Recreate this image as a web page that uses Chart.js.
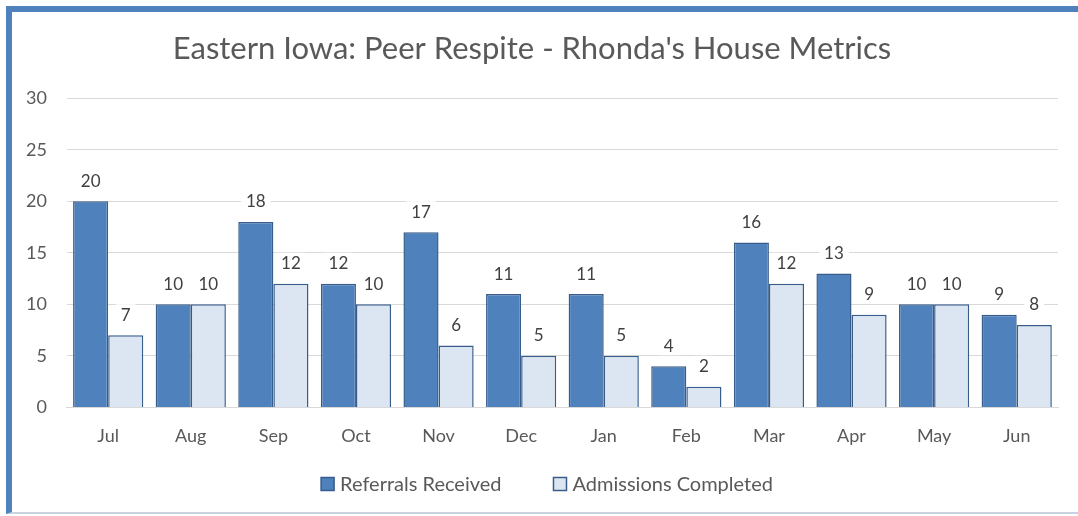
<!DOCTYPE html>
<html>
<head>
<meta charset="utf-8">
<script src="https://cdn.jsdelivr.net/npm/chart.js@4"></script>
<style>
  html, body { margin: 0; padding: 0; background: #fff; }
  #wrap { position: relative; width: 1078px; height: 516px; overflow: hidden; }
  #frame {
    position: absolute; left: 6px; top: 6px; width: 1100px; height: 508px;
    border-left: 6px solid #4f81bd; border-top: 6px solid #4f81bd;
    border-bottom: 2px solid #c8d3df; box-sizing: border-box;
  }
  #myChart { position: absolute; left: 0; top: 0; }
</style>
</head>
<body>
<div id="wrap">
  <div id="frame"></div>
  <canvas id="myChart" width="1078" height="516"></canvas>
</div>
<script>
const months = ["Jul", "Aug", "Sep", "Oct", "Nov", "Dec", "Jan", "Feb", "Mar", "Apr", "May", "Jun"];
const referrals = [20, 10, 18, 12, 17, 11, 11, 4, 16, 13, 10, 9];
const admissions = [7, 10, 12, 10, 6, 5, 5, 2, 12, 9, 10, 8];
const yTicks = [0, 5, 10, 15, 20, 25, 30];

const fontName = "Lato, 'Open Sans', sans-serif";
const textColor = "#595959";

// labels above bars, white box behind like excel
const barLabels = {
    id: "barLabels",
    afterDatasetsDraw(chart) {
        const ctx = chart.ctx;
        ctx.save();
        ctx.font = "17px " + fontName;
        ctx.textAlign = "center";
        ctx.textBaseline = "middle";
        chart.data.datasets.forEach((ds, i) => {
            const meta = chart.getDatasetMeta(i);
            meta.data.forEach((bar, j) => {
                const txt = String(ds.data[j]);
                const y = bar.y - 21;
                const w = ctx.measureText(txt).width + 10;
                ctx.fillStyle = "#ffffff";
                ctx.fillRect(bar.x - w / 2, y - 10, w, 20);
                ctx.fillStyle = "#404040";
                ctx.fillText(txt, bar.x, y + 1);
            });
        });
        ctx.restore();
    }
};

// bottom legend with wider gap between items than the built in one
const bottomLegend = {
    id: "bottomLegend",
    afterDraw(chart) {
        const ctx = chart.ctx;
        const box = 13, gap = 6, itemGap = 52;
        const y = 484;
        ctx.save();
        ctx.font = "20px " + fontName;
        ctx.textBaseline = "middle";
        const items = chart.data.datasets.map((ds) => ({
            ds,
            w: box + gap + ctx.measureText(ds.label).width,
        }));
        const total = items.reduce((s, it) => s + it.w, 0) + itemGap * (items.length - 1);
        let x = chart.width / 2 + 8 - total / 2;
        items.forEach((it) => {
            ctx.fillStyle = it.ds.backgroundColor;
            ctx.fillRect(x, y - box / 2, box, box);
            ctx.strokeStyle = it.ds.borderColor;
            ctx.lineWidth = 1.5;
            ctx.strokeRect(x, y - box / 2, box, box);
            ctx.fillStyle = textColor;
            ctx.fillText(it.ds.label, x + box + gap, y + 1);
            x += it.w + itemGap;
        });
        ctx.restore();
    }
};

const myChart = document.getElementById("myChart");
new Chart(myChart, {
    type: "bar",
    data: {
        labels: months,
        datasets: [
            {
                label: "Referrals Received",
                data: referrals,
                backgroundColor: "#4f81bd",
                borderColor: "#385d8a",
                borderWidth: 1.5,
            },
            {
                label: "Admissions Completed",
                data: admissions,
                backgroundColor: "#dce6f2",
                borderColor: "#385d8a",
                borderWidth: 1.5,
            },
        ],
    },
    options: {
        responsive: false,
        animation: false,
        layout: { padding: { left: 6, right: 20, top: 14, bottom: 59 } },
        datasets: { bar: { categoryPercentage: 0.85, barPercentage: 1.0 } },
        plugins: {
            title: {
                display: true,
                text: "Eastern Iowa: Peer Respite - Rhonda's House Metrics",
                color: textColor,
                font: { family: fontName, size: 31, weight: "normal" },
                padding: { top: 16, bottom: 31 },
            },
            legend: { display: false },
            tooltip: { enabled: false },
        },
        scales: {
            x: {
                grid: { display: false },
                border: { color: "#d9d9d9" },
                ticks: { color: textColor, font: { family: fontName, size: 18 }, padding: 10 },
            },
            y: {
                min: 0,
                max: 30,
                afterBuildTicks(axis) {
                    axis.ticks = yTicks.map((v) => ({ value: v }));
                },
                grid: { color: "#d9d9d9", drawTicks: false },
                border: { display: false },
                ticks: { color: textColor, font: { family: fontName, size: 18 }, padding: 20 },
            },
        },
    },
    plugins: [barLabels, bottomLegend],
});
</script>
</body>
</html>
